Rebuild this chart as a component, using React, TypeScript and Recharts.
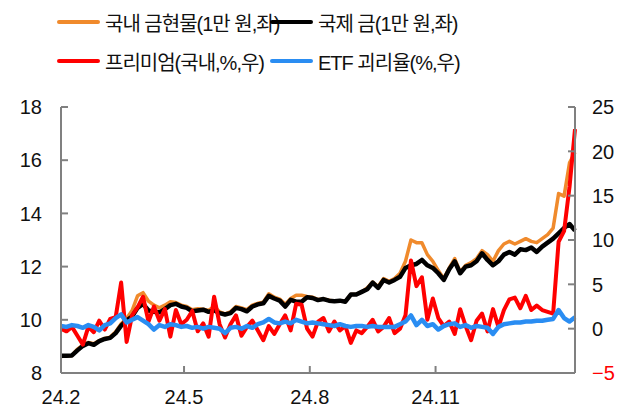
import React from "react";
import { LineChart, Line, XAxis, YAxis } from "recharts";

// x positions: trading sample every 4 days from 2024-02-01
const STEP_DAYS = 4;

const tickDays = [0, 90, 182, 274];
const tickLabels = ["24.2", "24.5", "24.8", "24.11"];

// 국내 금현물 (1만 원, 좌)
const domestic = [
  8.62, 8.64, 8.66, 8.9, 9.05, 9.15, 9.1, 9.22, 9.3, 9.35,
  9.55, 9.85, 10.05, 10.35, 10.9, 11.02, 10.7, 10.55, 10.45, 10.55,
  10.68, 10.65, 10.55, 10.5, 10.38, 10.42, 10.4, 10.35, 10.5, 10.3,
  10.22, 10.3, 10.5, 10.45, 10.38, 10.55, 10.62, 10.66, 10.98, 10.85,
  10.78, 10.58, 10.8, 10.92, 10.92, 10.88, 10.85, 10.76, 10.78, 10.74,
  10.7, 10.72, 10.7, 10.95, 10.96, 11.05, 11.2, 11.42, 11.25, 11.55,
  11.45, 11.55, 11.75, 12.2, 13.0, 12.9, 12.9, 12.45, 12.2, 11.85,
  11.55, 11.95, 12.3, 11.8, 12.05, 12.15, 12.3, 12.6, 12.45, 12.2,
  12.6, 12.85, 12.95, 12.85, 12.95, 13.05, 12.95, 12.9, 13.05, 13.2,
  13.45, 14.75, 14.65, 15.9, 16.3,
];

// 국제 금 (1만 원, 좌)
const international = [
  8.65, 8.65, 8.66, 8.85, 9.02, 9.12, 9.06, 9.2, 9.28, 9.32,
  9.5, 9.78, 9.98, 10.12, 10.45, 10.6, 10.35, 10.3, 10.28, 10.4,
  10.55, 10.6, 10.5, 10.45, 10.32, 10.35, 10.38, 10.3, 10.36, 10.25,
  10.2, 10.25, 10.45, 10.4, 10.32, 10.5, 10.58, 10.62, 10.9, 10.8,
  10.72, 10.5, 10.75, 10.68, 10.68, 10.85, 10.82, 10.74, 10.78, 10.72,
  10.7, 10.72, 10.68, 10.95, 10.95, 11.05, 11.15, 11.4, 11.2, 11.5,
  11.4, 11.5, 11.62, 11.95, 12.05, 12.1, 12.25, 12.05, 11.95, 11.75,
  11.5, 11.9, 12.2, 11.75, 12.0, 12.05, 12.2, 12.5, 12.25, 12.05,
  12.2, 12.45, 12.55, 12.45, 12.65, 12.62, 12.72, 12.55, 12.75, 12.9,
  13.05, 13.25, 13.45, 13.6, 13.35,
];

// 프리미엄 (국내, %, 우)
const premium = [
  0.0, -0.3, 0.2, -0.8, -1.8, 0.2, -0.4, 0.9, -0.1, 1.1,
  1.3, 5.2, -1.5, 1.5, 2.4, 3.6, 0.8, 2.5, 0.9, 2.2,
  -0.9, 2.1, 0.5, 1.0, 2.0, -0.3, 0.6, -0.9, 3.6, 0.5,
  -1.0, 0.5, 1.5, -0.8, 0.2, 0.9, -0.2, -1.3, 0.3, -0.6,
  0.5, 1.5, -0.2, 2.8, 2.7, 0.0, -0.9, 0.8, 1.2, -0.3,
  0.8, -0.2, 0.3, -1.6, -0.2, -0.5, 0.2, 1.0, -0.3, 0.2,
  1.2, -0.5, 0.0, 1.5, 7.7, 4.8, 5.8, 1.0, 3.4, 1.2,
  0.3, 0.8, -0.6, 2.2, 0.3, -1.3, 0.9, 1.7, -0.3, 2.2,
  0.2, 2.1, 3.3, 3.5, 2.3, 3.7, 2.1, 2.6, 2.1, 1.9,
  1.7, 9.8, 11.0, 16.0, 22.5,
];

// ETF 괴리율 (%, 우)
const etfGap = [
  0.3, 0.2, 0.4, 0.3, 0.1, 0.4, 0.2, -0.2, 0.4, 0.6,
  1.2, 1.6, 0.7, 1.0, 1.3, 0.9, 0.5, -0.1, 0.4, 0.2,
  0.5, 0.4, 0.2, 0.3, 0.1, 0.2, 0.0, 0.2, 0.1, 0.0,
  -0.5, 0.1, 0.2, 0.0, 0.3, 0.1, 0.5, 0.7, 1.1, 0.7,
  0.6, 0.8, 0.6, 1.0, 0.8, 0.6, 0.7, 0.6, 0.5, 0.4,
  0.3, 0.5, 0.3, 0.2, 0.3, 0.3, 0.2, 0.3, 0.2, 0.2,
  0.2, 0.2, 0.5, 0.8, 1.5, 0.4, 1.0, 0.3, 0.5, -0.1,
  0.3, 0.5, 0.6, 0.2, 0.4, 0.1, 0.3, 0.2, 0.1, -0.6,
  0.2, 0.5, 0.6, 0.7, 0.7, 0.8, 0.8, 0.9, 0.9, 1.0,
  1.1, 2.1, 1.2, 0.8, 1.3,
];

const leftTicks = [8, 10, 12, 14, 16, 18];
const rightTicks = [-5, 0, 5, 10, 15, 20, 25];

const series = [
  { key: "domestic", name: "국내 금현물(1만 원,좌)", color: "#F08A2C", width: 3.5, axis: "left" },
  { key: "international", name: "국제 금(1만 원,좌)", color: "#000000", width: 4.5, axis: "left" },
  { key: "premium", name: "프리미엄(국내,%,우)", color: "#FF0000", width: 4, axis: "right" },
  { key: "etfGap", name: "ETF 괴리율(%,우)", color: "#2A8DF2", width: 4.5, axis: "right" },
];

const data = domestic.map((v, i) => ({
  day: i * STEP_DAYS,
  domestic: v,
  international: international[i],
  premium: premium[i],
  etfGap: etfGap[i],
}));

const FONT = "'Liberation Sans', 'Noto Sans CJK KR', sans-serif";
const AXIS = "#808080";

const RightTick = (props: any) => {
  const { x, y, payload } = props;
  const v = payload.value;
  return (
    <text
      x={x}
      y={y}
      dy="0.36em"
      textAnchor="start"
      fontSize={20}
      fontFamily={FONT}
      fill={v < 0 ? "#FF0000" : "#111"}
    >
      {v < 0 ? `−${Math.abs(v)}` : v}
    </text>
  );
};

const legendPos = [
  { left: 57, top: 22 },
  { left: 270, top: 22 },
  { left: 57, top: 61 },
  { left: 270, top: 61 },
];

const App = () => {
  return (
    <div
      style={{
        position: "absolute",
        left: 0,
        top: 0,
        width: 630,
        height: 412,
        background: "#fff",
        fontFamily: FONT,
      }}
    >
      {series.map((s, i) => (
        <div
          key={s.key}
          style={{
            position: "absolute",
            left: legendPos[i].left,
            top: legendPos[i].top - 14,
            height: 28,
            display: "flex",
            alignItems: "center",
            whiteSpace: "nowrap",
          }}
        >
          <div style={{ width: 43, height: 4, background: s.color, borderRadius: 2 }} />
          <span style={{ marginLeft: 5, fontSize: 20, letterSpacing: -1, color: "#111" }}>
            {s.name}
          </span>
        </div>
      ))}
      <LineChart
        width={630}
        height={412}
        data={data}
        margin={{ top: 107, right: 0, bottom: 0, left: 0 }}
      >
        <XAxis
          dataKey="day"
          type="number"
          domain={[0, 376]}
          ticks={tickDays}
          tickFormatter={(v: number) => tickLabels[tickDays.indexOf(v)]}
          height={39}
          tickSize={-7}
          tickMargin={24}
          stroke={AXIS}
          strokeWidth={2}
          tick={{ fill: "#111", fontSize: 20, fontFamily: FONT }}
        />
        <YAxis
          yAxisId="left"
          domain={[8, 18]}
          ticks={leftTicks}
          width={61}
          tickSize={-7}
          tickMargin={26}
          stroke={AXIS}
          strokeWidth={2}
          tick={{ fill: "#111", fontSize: 20, fontFamily: FONT }}
        />
        <YAxis
          yAxisId="right"
          orientation="right"
          domain={[-5, 25]}
          ticks={rightTicks}
          width={55}
          tickSize={-7}
          tickMargin={24}
          stroke={AXIS}
          strokeWidth={2}
          tick={<RightTick />}
        />
        {series.map((s) => (
          <Line
            key={s.key}
            yAxisId={s.axis}
            dataKey={s.key}
            type="linear"
            stroke={s.color}
            strokeWidth={s.width}
            strokeLinejoin="round"
            dot={false}
            activeDot={false}
            isAnimationActive={false}
          />
        ))}
      </LineChart>
    </div>
  );
};

export default App;
